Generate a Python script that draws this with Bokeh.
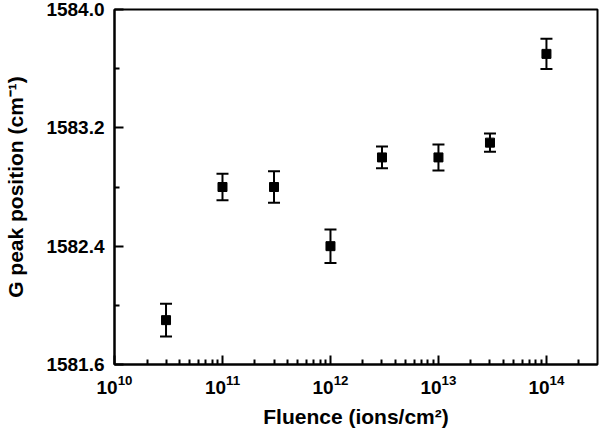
from bokeh.plotting import figure
from bokeh.models import (ColumnDataSource, Whisker, TeeHead, FixedTicker,
                          PrintfTickFormatter, Range1d)
from bokeh.embed import file_html
from bokeh.resources import INLINE

# Data
fluence = [3e10, 1e11, 3e11, 1e12, 3e12, 1e13, 3e13, 1e14]
g_peak = [1581.90, 1582.80, 1582.80, 1582.40, 1583.00, 1583.00, 1583.10, 1583.70]
g_err = [0.11, 0.09, 0.107, 0.113, 0.074, 0.088, 0.062, 0.103]

x_major = [1e10, 1e11, 1e12, 1e13, 1e14]
y_major = [1581.6, 1582.4, 1583.2, 1584.0]
y_minor = [1582.0, 1582.8, 1583.6]

upper = [v + e for v, e in zip(g_peak, g_err)]
lower = [v - e for v, e in zip(g_peak, g_err)]
src = ColumnDataSource(dict(x=fluence, y=g_peak, upper=upper, lower=lower))

x_minor = [d * m for d in x_major for m in range(2, 10)]

FONT = "Liberation Sans"

p = figure(width=600, height=434, x_axis_type="log",
           x_range=Range1d(1e10, 2.97e14), y_range=Range1d(1581.6, 1584.0),
           output_backend="svg", toolbar_location=None,
           min_border_left=114, min_border_right=3, min_border_top=9,
           min_border_bottom=70)

p.grid.visible = False
p.outline_line_color = "black"
p.outline_line_width = 2
p.background_fill_color = "white"
p.border_fill_color = "white"

p.add_layout(Whisker(source=src, base="x", upper="upper", lower="lower",
                     dimension="height", line_color="black", line_width=2,
                     upper_head=TeeHead(size=12, line_color="black", line_width=2),
                     lower_head=TeeHead(size=12, line_color="black", line_width=2)))
p.scatter("x", "y", source=src, marker="square", size=9,
          fill_color="black", line_color="black")

xa = p.xaxis[0]
xa.ticker = FixedTicker(ticks=x_major, minor_ticks=x_minor)
xa.axis_label = "Fluence (ions/cm²)"

ya = p.yaxis[0]
ya.ticker = FixedTicker(ticks=y_major, minor_ticks=y_minor)
ya.formatter = PrintfTickFormatter(format="%.1f")
ya.axis_label = "G peak position (cm⁻¹)"

for ax in (xa, ya):
    ax.axis_line_width = 2
    ax.axis_line_color = "black"
    ax.major_tick_in = 9
    ax.major_tick_out = 0
    ax.minor_tick_in = 5
    ax.minor_tick_out = 0
    ax.major_tick_line_width = 2
    ax.minor_tick_line_width = 2
    ax.major_label_text_font = FONT
    ax.major_label_text_font_style = "bold"
    ax.major_label_text_font_size = "19px"
    ax.major_label_text_color = "black"
    ax.axis_label_text_font = FONT
    ax.axis_label_text_font_style = "bold"
    ax.axis_label_text_font_size = "21px"
    ax.axis_label_text_color = "black"

ya.major_label_standoff = 10
ya.axis_label_standoff = 16
xa.major_label_standoff = 10
xa.axis_label_standoff = 8

open("out.html", "w").write(file_html(p, INLINE))
